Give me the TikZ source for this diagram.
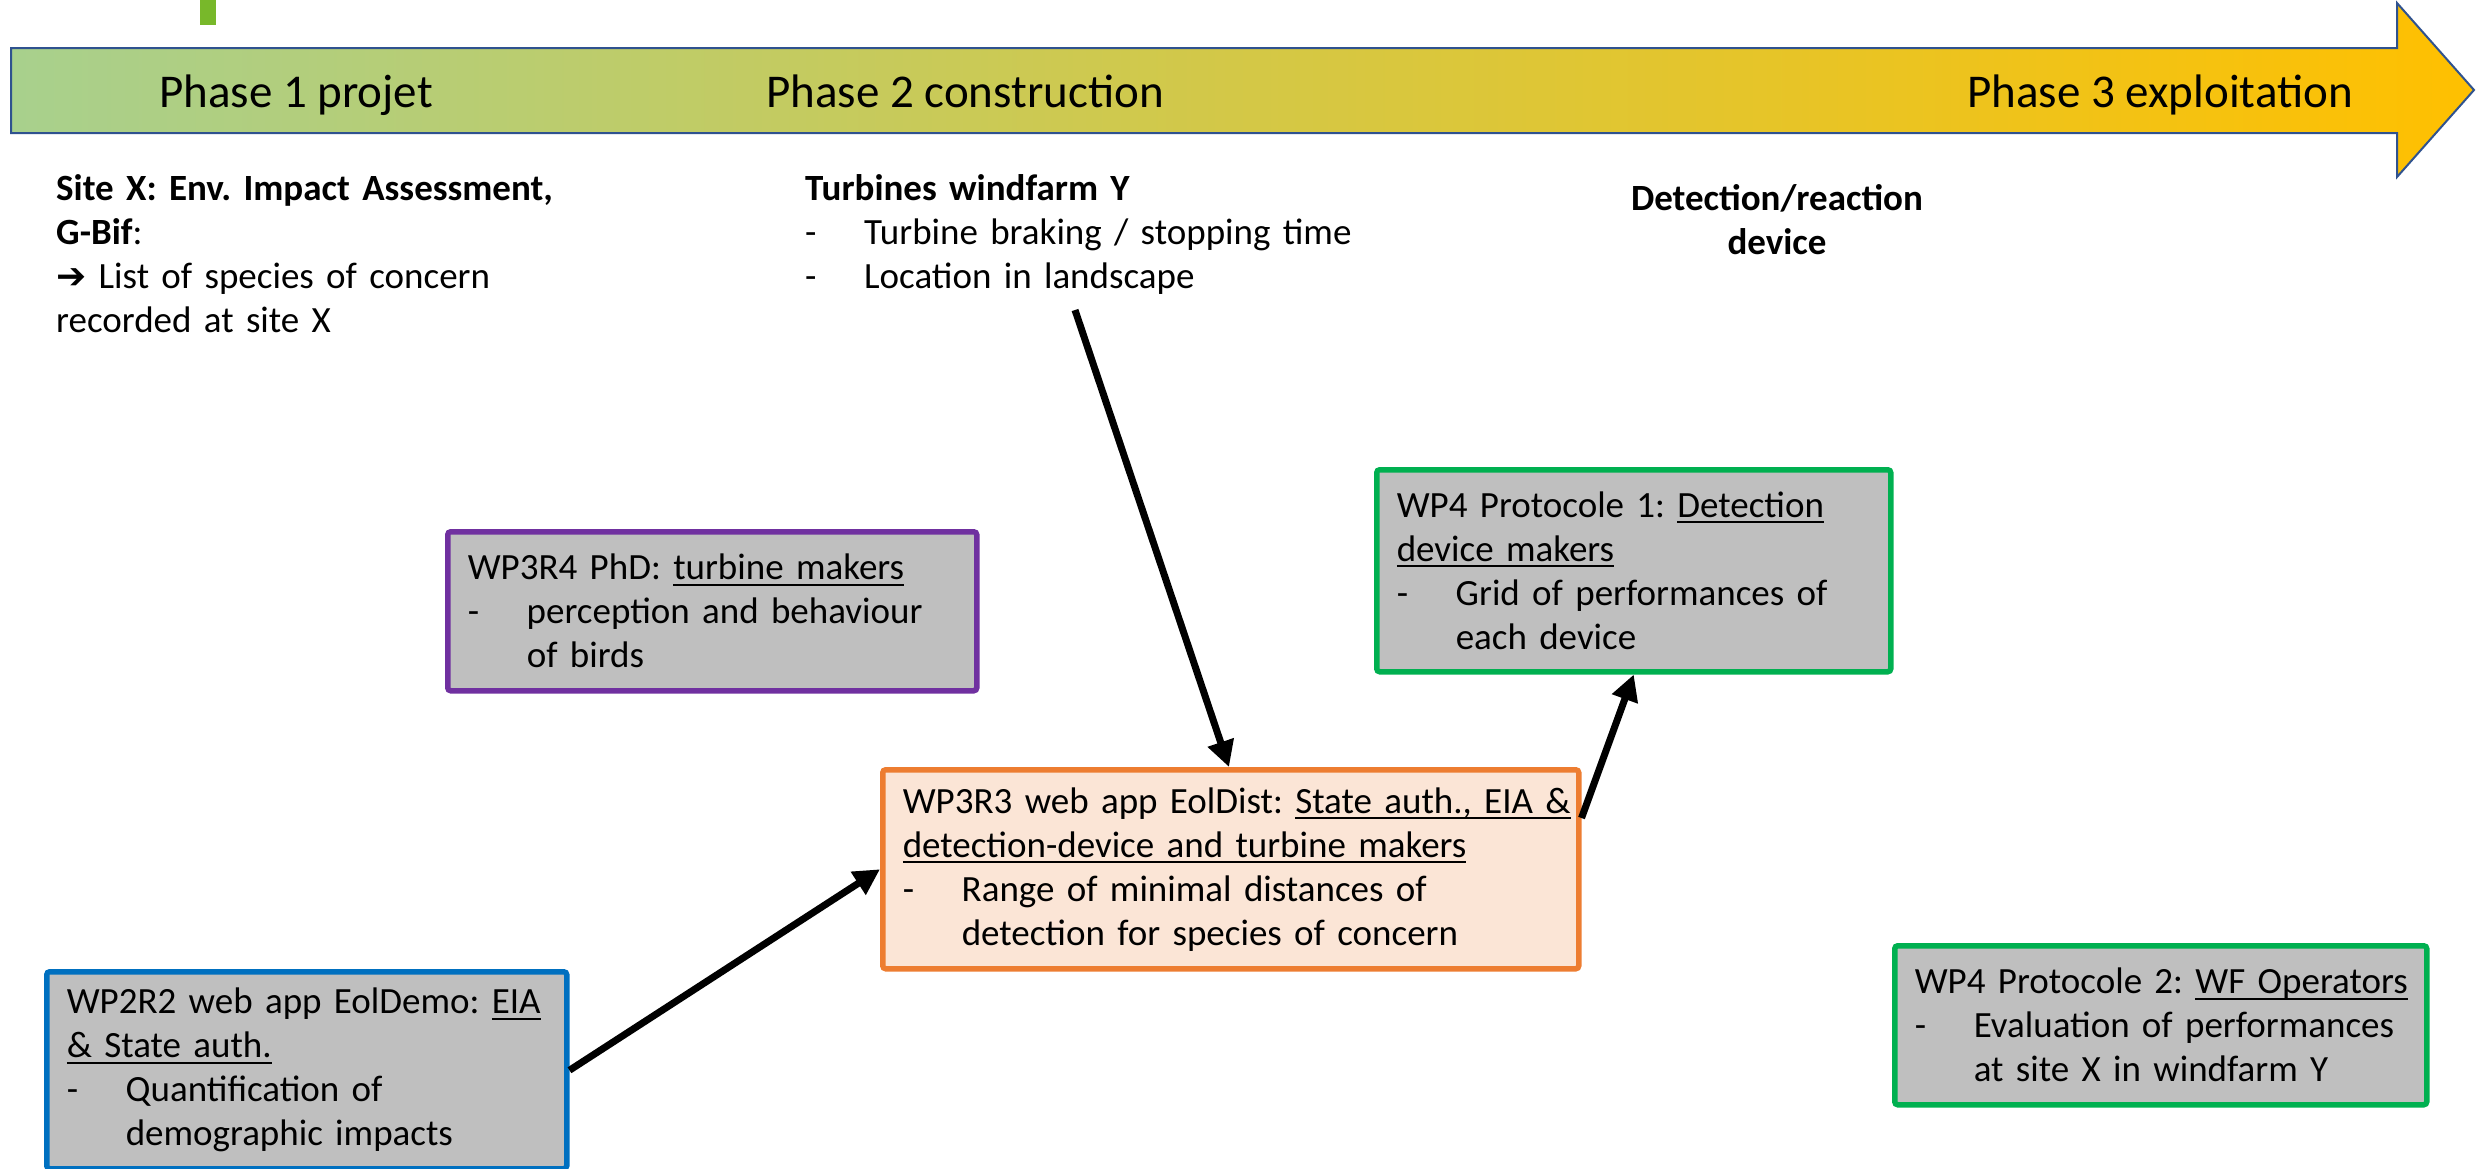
\documentclass[tikz,border=0pt]{standalone}
\usepackage{fontspec}
\setmainfont{Carlito}
\newfontfamily\symfont{DejaVu Sans}
\usetikzlibrary{arrows.meta,calc}

\definecolor{barline}{RGB}{47,82,143}
\definecolor{barstart}{RGB}{168,208,141}
\definecolor{barend}{RGB}{255,192,0}
\definecolor{tickgreen}{RGB}{120,184,42}
\definecolor{boxgray}{RGB}{191,191,191}
\definecolor{wppurple}{RGB}{112,48,160}
\definecolor{wpgreen}{RGB}{0,176,80}
\definecolor{wporange}{RGB}{237,125,49}
\definecolor{wpsalmon}{RGB}{251,229,214}
\definecolor{wpblue}{RGB}{0,112,192}

\frenchspacing
% underline at a fixed depth, so every underlined span lines up
\newcommand{\ulx}[1]{\leavevmode\setbox0=\hbox{#1}\rlap{\rule[-6pt]{\wd0}{2.2pt}}\box0}
% one unbreakable line of box text
\newcommand{\oneline}[1]{\mbox{#1}}
% bullet dash with hanging indent
\newcommand{\bul}{\makebox[59pt][l]{-}}
\newcommand{\ind}{\hspace*{59pt}}

\begin{document}
\begin{tikzpicture}[x=1pt,y=-1pt,
  phase/.style={inner sep=0pt, font=\fontsize{47}{56}\selectfont},
  plain/.style={inner sep=0pt, align=left, font=\fontsize{37}{44}\selectfont},
  wpbox/.style={draw, line width=5.5pt, fill=boxgray, rounded corners=3pt,
    anchor=north west, align=left, inner xsep=20pt, inner ysep=0pt,
    font=\fontsize{37}{44}\selectfont},
  conn/.style={line width=7pt, -{Triangle[length=26pt,width=26pt]}}]

\useasboundingbox (0,0) rectangle (2476,1168);

% small green mark above the timeline
\fill[tickgreen] (200,0) rectangle (216,25);

% timeline arrow
\shadedraw[left color=barstart, right color=barend, draw=barline, line width=2pt]
  (11,48) -- (2397,48) -- (2397,3) -- (2474,90) -- (2397,177) -- (2397,133) -- (11,133) -- cycle;

\node[phase, anchor=base west] (p1) at (159,107) {Phase 1 projet};
\node[phase, anchor=base west] (p2) at (766,107) {Phase 2 construction};
\node[phase, anchor=base east] (p3) at (2353,107) {Phase 3 exploitation};

% inputs listed under the timeline
\node[plain, anchor=base west, text width=700pt] (sitex) at (56,200)
  {\oneline{\textbf{Site X: Env. Impact Assessment,}}\\
   \oneline{\textbf{G-Bif}:}\\
   \oneline{{\symfont\bfseries\fontsize{36}{44}\selectfont ➔} List of species of concern}\\
   \oneline{recorded at site X}};

\node[plain, anchor=base west, text width=700pt] (turb) at (805,200)
  {\oneline{\textbf{Turbines windfarm Y}}\\
   \oneline{\bul Turbine braking / stopping time}\\
   \oneline{\bul Location in landscape}};

\node[plain, anchor=base, align=center, text width=420pt, font=\fontsize{37}{44}\selectfont\bfseries] (detect) at (1777,210)
  {Detection/reaction\\ device};

% work-package boxes
\node[wpbox, draw=wppurple, text width=489pt, minimum height=159pt] (wp3r4) at (445,529)
  {\oneline{WP3R4 PhD: \ulx{turbine makers}}\\
   \oneline{\bul perception and behaviour}\\
   \oneline{\ind of birds}};

\node[wpbox, draw=wpgreen, text width=474pt, minimum height=202pt] (wp4p1) at (1374,467)
  {\oneline{WP4 Protocole 1: \ulx{Detection}}\\
   \oneline{\ulx{device makers}}\\
   \oneline{\bul Grid of performances of}\\
   \oneline{\ind each device}};

\node[wpbox, draw=wporange, fill=wpsalmon, text width=656pt, minimum height=199pt] (wp3r3) at (880,767)
  {\oneline{WP3R3 web app EolDist: \ulx{State auth., EIA \&}}\\
   \oneline{\ulx{detection-device and turbine makers}}\\
   \oneline{\bul Range of minimal distances of}\\
   \oneline{\ind detection for species of concern}};

\node[wpbox, draw=wpblue, text width=480pt, minimum height=197pt] (wp2r2) at (44,969)
  {\oneline{WP2R2 web app EolDemo: \ulx{EIA}}\\
   \oneline{\ulx{\& State auth.}}\\
   \oneline{\bul Quantification of}\\
   \oneline{\ind demographic impacts}};

\node[wpbox, draw=wpgreen, text width=492pt, minimum height=159pt] (wp4p2) at (1892,943)
  {\oneline{WP4 Protocole 2: \ulx{WF Operators}}\\
   \oneline{\bul Evaluation of performances}\\
   \oneline{\ind at site X in windfarm Y}};

% connectors
\coordinate (tstart) at (1075,310);
\draw[conn] (tstart) -- ([xshift=349pt]wp3r3.north west);
\draw[conn] (wp2r2.east) -- (wp3r3.west);
\draw[conn] ([yshift=-51pt]wp3r3.north east) -- (wp4p1.south);

\end{tikzpicture}
\end{document}
